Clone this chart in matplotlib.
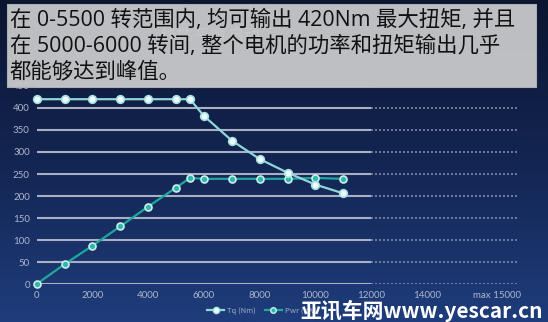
import numpy as np
import matplotlib
matplotlib.use('Agg')
import matplotlib.pyplot as plt
from matplotlib.patches import Rectangle
from matplotlib.lines import Line2D

plt.rcParams['font.family'] = ['Noto Sans CJK SC', 'DejaVu Sans']

rpm = [0, 1000, 2000, 3000, 4000, 5000, 5500, 6000, 7000, 8000, 9000, 10000, 11000]
torque = [420, 420, 420, 420, 420, 420, 420, 382, 326, 284, 253, 226, 206]
power = [0, 45, 87, 131, 176, 219, 241, 239, 239, 239, 239, 241, 239]
x_ticks = [0, 2000, 4000, 6000, 8000, 10000, 12000, 14000, 16500]
x_labels = ['0', '2000', '4000', '6000', '8000', '10000', '12000', '14000', 'max 15000']
y_ticks = [0, 50, 100, 150, 200, 250, 300, 350, 400, 450]
note_lines = ['在 0-5500 转范围内, 均可输出 420Nm 最大扭矩, 并且',
              '在 5000-6000 转间, 整个电机的功率和扭矩输出几乎',
              '都能够达到峰值。']

W, H = 548, 322
fig = plt.figure(figsize=(W / 100, H / 100), dpi=100)

bg = fig.add_axes([0, 0, 1, 1])
grad = np.linspace(0, 1, 256).reshape(-1, 1)
cmap = matplotlib.colors.LinearSegmentedColormap.from_list('bg', ['#0b1530', '#132552', '#1f3d7c'])
bg.imshow(grad, aspect='auto', cmap=cmap, extent=[0, 1, 0, 1], origin='upper')
bg.axis('off')

x0, x1 = 36.7, 518.8
y0, y1 = 284, 86
ax = fig.add_axes([x0 / W, 1 - y0 / H, (x1 - x0) / W, (y0 - y1) / H])
ax.set_xlim(0, 17300)
ax.set_ylim(0, 450)
ax.patch.set_alpha(0)
for s in ax.spines.values():
    s.set_visible(False)

for y in y_ticks:
    ax.plot([0, 12000], [y, y], color='#a9b0c6', lw=1.5, solid_capstyle='butt', zorder=1)
    ax.plot([12000, 17300], [y, y], color='#7d89a8', lw=1.2, ls=(0, (1.2, 1.2)), zorder=1)

ax.plot(rpm, power, color='#1fa79c', lw=1.6, marker='o', ms=5,
        mfc='#2bb8ad', mec='#cdeeea', mew=1.2, zorder=3, clip_on=False)
ax.plot(rpm, torque, color='#8fd6d8', lw=1.6, marker='o', ms=5.5,
        mfc='#f2fbfb', mec='#a5e0e0', mew=1.2, zorder=4, clip_on=False)

ax.set_xticks(x_ticks, x_labels)
ax.set_yticks(y_ticks)
ax.tick_params(length=0, labelsize=7, colors='#aeb7cc', pad=5)
for lbl in ax.get_xticklabels() + ax.get_yticklabels():
    lbl.set_family(['Lato', 'DejaVu Sans'])

handles = [Line2D([], [], color='#8fd6d8', lw=1.6, marker='o', ms=4.5, mfc='#f2fbfb', mec='#a5e0e0'),
           Line2D([], [], color='#1fa79c', lw=1.6, marker='o', ms=4, mfc='#2bb8ad', mec='#cdeeea')]
fig.legend(handles, ['Tq (Nm)', 'Pwr (kW)'], loc='center', bbox_to_anchor=(262 / W, 1 - 311 / H),
           ncol=2, frameon=False, fontsize=5.5, labelcolor='#9fa9c2', handlelength=2.2,
           columnspacing=1.2, handletextpad=0.4)

fig.text(210 / W, 1 - 35 / H, '线性 平顺 启动', color='white', fontsize=11, ha='center',
         va='center', alpha=0.6)
fig.patches.append(Rectangle((7 / W, 1 - 87 / H), (536 - 7) / W, (87 - 4) / H,
                             transform=fig.transFigure, facecolor='#c9cacc', edgecolor='#b0b2b6',
                             lw=0.8, alpha=0.94, zorder=5))
for i, line in enumerate(note_lines):
    fig.text(10 / W, 1 - (20 + 26 * i) / H, line, fontsize=15.4, color='#111111',
             va='center', ha='left', zorder=6, family=['Open Sans', 'Noto Sans CJK SC'])

fig.text(300 / W, 1 - 318 / H, '亚讯车网www.yescar.cn', fontsize=15, color='white',
         fontweight='bold', ha='left', va='baseline', zorder=6,
         family=['Noto Sans CJK SC', 'Liberation Sans'])

fig.savefig('out.png', dpi=100)
